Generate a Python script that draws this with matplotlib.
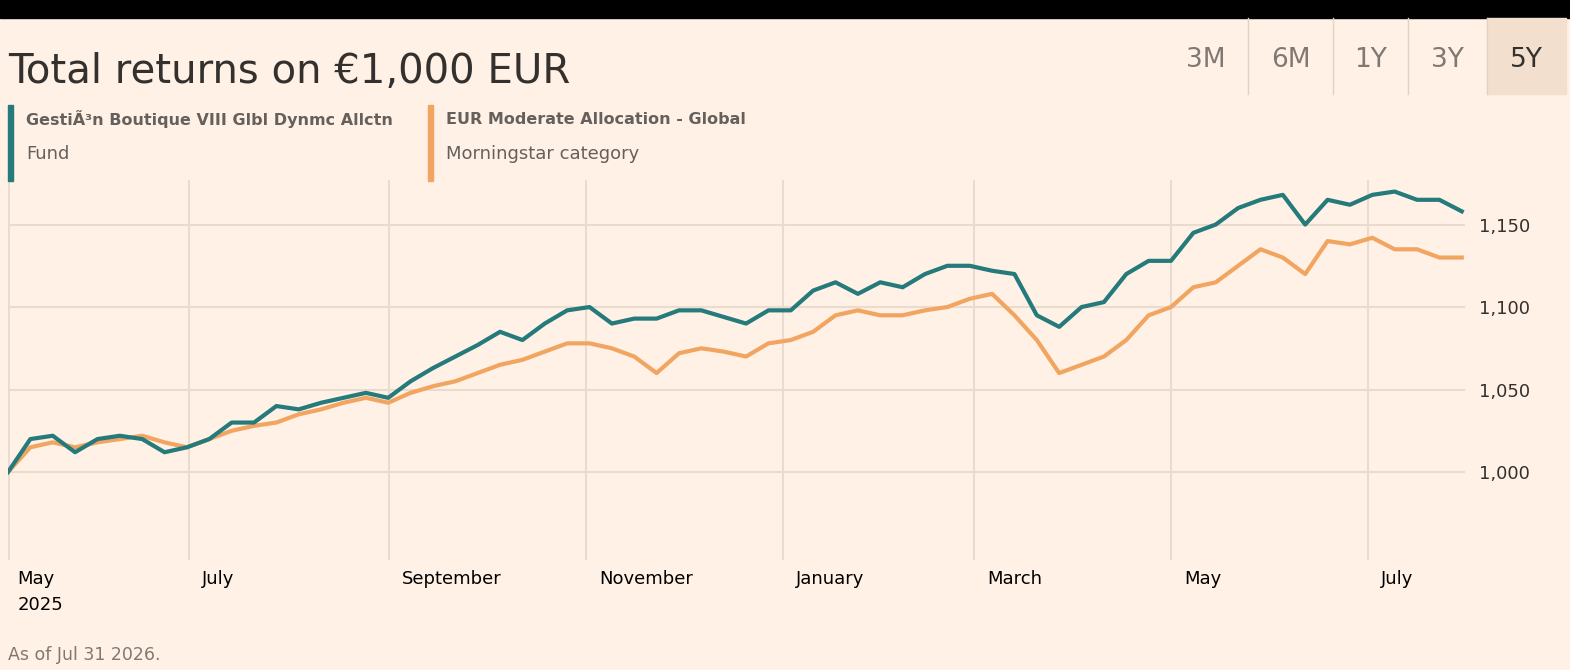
import numpy as np
import pandas as pd
import matplotlib.pyplot as plt
import matplotlib.dates as mdates
from matplotlib.patches import Rectangle

# values, roughly weekly
fund = [1000, 1020, 1022, 1012, 1020, 1022, 1020, 1012, 1015, 1020,
        1030, 1030, 1040, 1038, 1042, 1045, 1048, 1045, 1055, 1063,
        1070, 1077, 1085, 1080, 1090, 1098, 1100, 1090, 1093, 1093,
        1098, 1098, 1094, 1090, 1098, 1098, 1110, 1115, 1108, 1115,
        1112, 1120, 1125, 1125, 1122, 1120, 1095, 1088, 1100, 1103,
        1120, 1128, 1128, 1145, 1150, 1160, 1165, 1168, 1150, 1165,
        1162, 1168, 1170, 1165, 1165, 1158]
category = [1000, 1015, 1018, 1015, 1018, 1020, 1022, 1018, 1015, 1020,
            1025, 1028, 1030, 1035, 1038, 1042, 1045, 1042, 1048, 1052,
            1055, 1060, 1065, 1068, 1073, 1078, 1078, 1075, 1070, 1060,
            1072, 1075, 1073, 1070, 1078, 1080, 1085, 1095, 1098, 1095,
            1095, 1098, 1100, 1105, 1108, 1095, 1080, 1060, 1065, 1070,
            1080, 1095, 1100, 1112, 1115, 1125, 1135, 1130, 1120, 1140,
            1138, 1142, 1135, 1135, 1130, 1130]
dates = pd.date_range("2025-05-06", "2026-07-30", periods=len(fund))

month_ticks = ["2025-07-01", "2025-09-01", "2025-11-01", "2026-01-01",
               "2026-03-01", "2026-05-01", "2026-07-01"]
month_labels = ["July", "September", "November", "January", "March", "May", "July"]
y_ticks = [1000, 1050, 1100, 1150]
periods = ["3M", "6M", "1Y", "3Y", "5Y"]

bg = "#fff1e5"
teal = "#257a7b"
orange = "#f2a561"
grid = "#e9dccf"

fig = plt.figure(figsize=(15.7, 6.7), dpi=100, facecolor=bg)
W, H = 1570, 670

def fx(px):
    return px / W

def fy(py):
    return 1 - py / H

# black top bar
fig.patches.append(Rectangle((0, fy(18)), 1, 18 / H, transform=fig.transFigure,
                             color="black"))
fig.text(fx(8), fy(72), "Total returns on €1,000 EUR", fontsize=29,
         color="#33302e", va="center")

# period buttons
edges = [1163, 1248, 1333, 1408, 1487, 1566]
for i, p in enumerate(periods):
    x0, x1 = edges[i], edges[i + 1]
    if p == "5Y":
        fig.patches.append(Rectangle((fx(x0), fy(94)), (x1 - x0) / W, 76 / H,
                                     transform=fig.transFigure, color="#f2dfce"))
    if i > 0:
        fig.lines.append(plt.Line2D([fx(x0), fx(x0)], [fy(94), fy(18)],
                                    transform=fig.transFigure, color="#e0d3c6", lw=1))
    fig.text(fx((x0 + x1) / 2), fy(60), p, fontsize=19, ha="center", va="center",
             color="#33302e" if p == "5Y" else "#807973")

# legend
for x, c, name, sub in [(8, teal, "GestiÃ³n Boutique VIII Glbl Dynmc Allctn", "Fund"),
                        (428, orange, "EUR Moderate Allocation - Global", "Morningstar category")]:
    fig.patches.append(Rectangle((fx(x), fy(181)), 5 / W, 76 / H,
                                 transform=fig.transFigure, color=c))
    fig.text(fx(x + 18), fy(119), name, fontsize=11.5, fontweight="bold",
             color="#66605c", va="center")
    fig.text(fx(x + 18), fy(154), sub, fontsize=13, color="#66605c", va="center")

ax = fig.add_axes([fx(8), fy(560), (1465 - 8) / W, (560 - 180) / H])
ax.set_facecolor(bg)
ax.plot(dates, category, color=orange, lw=3, zorder=3)
ax.plot(dates, fund, color=teal, lw=3, zorder=4)

ax.set_xlim(pd.Timestamp("2025-05-06"), pd.Timestamp("2026-07-31"))
ax.set_ylim(946.7, 1177)
ax.set_yticks(y_ticks)
ax.yaxis.tick_right()
ax.set_yticklabels([f"{v:,}" for v in y_ticks], fontsize=13, color="#33302e")
ax.tick_params(axis="y", length=0, pad=10)
ax.set_xticks([pd.Timestamp(d) for d in month_ticks])
ax.set_xticklabels([])
ax.tick_params(axis="x", length=0)
ax.grid(True, color=grid, lw=1.5)
for s in ax.spines.values():
    s.set_visible(False)
ax.axvline(pd.Timestamp("2025-05-06"), color=grid, lw=2)

tr = ax.get_xaxis_transform()
ax.text(pd.Timestamp("2025-05-09"), -0.025, "May\n2025", transform=tr, fontsize=13,
        va="top", color="black", linespacing=1.6)
for d, lab in zip(month_ticks, month_labels):
    ax.text(pd.Timestamp(d) + pd.Timedelta(days=4), -0.025, lab, transform=tr,
            fontsize=13, va="top", color="black")

fig.text(fx(8), fy(655), "As of Jul 31 2026.", fontsize=12.5, color="#807973",
         va="center")

fig.savefig("out.png", dpi=100, facecolor=bg)
